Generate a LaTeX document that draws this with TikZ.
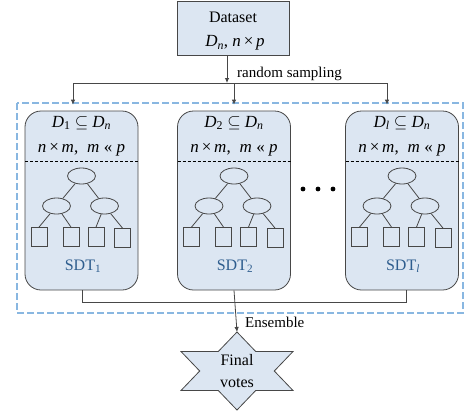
\documentclass[tikz,border=0pt]{standalone}
\usepackage{fontspec}
\setmainfont{Liberation Serif}
\usetikzlibrary{arrows.meta,shapes.geometric}
\definecolor{boxblue}{HTML}{DCE6F2}
\definecolor{linegray}{HTML}{474747}
\definecolor{dashblue}{HTML}{5B9BD5}
\definecolor{sdtblue}{HTML}{2E5D8E}
\newcommand\sbs[1]{\textsubscript{#1}}
\newcommand\Dn{\textit{D}\sbs{\textit{n}}}
\tikzset{
  conn/.style={draw=linegray, line width=0.8pt},
  arr/.style={conn, -{Latex[length=5pt,width=4.5pt]}},
  dsbox/.style={draw=linegray, fill=boxblue, line width=0.8pt, minimum width=112pt, minimum height=54pt, inner sep=0pt},
  sdtbox/.style={draw=linegray, fill=boxblue, line width=0.8pt, rounded corners=16pt, minimum width=113pt, minimum height=179pt, inner sep=0pt},
  treenode/.style={ellipse, draw=linegray, fill=boxblue, line width=0.8pt, minimum width=28pt, minimum height=16pt, inner sep=0pt},
  leaf/.style={rectangle, draw=linegray, fill=boxblue, line width=0.8pt, minimum width=16pt, minimum height=19pt, inner sep=0pt},
  txt/.style={inner sep=0pt, font=\fontsize{16}{19}\selectfont},
  mtxt/.style={inner sep=0pt, font=\fontsize{17}{20}\selectfont},
  lbl/.style={inner sep=0pt, font=\fontsize{15}{18}\selectfont},
  pics/sdtree/.style={code={
    \node[treenode] (-r) at (0,-24.5) {};
    \node[treenode] (-a) at (-25,5.5) {};
    \node[treenode] (-b) at (23,5.5) {};
    \node[leaf] (-l1) at (-42.5,36.5) {};
    \node[leaf] (-l2) at (-10.5,36.5) {};
    \node[leaf] (-l3) at (14.5,36.5) {};
    \node[leaf] (-l4) at (41,37.5) {};
    \draw[conn] (-r) -- (-a);
    \draw[conn] (-r) -- (-b);
    \draw[conn] (-a) -- (-l1.north);
    \draw[conn] (-a) -- (-l2.north);
    \draw[conn] (-b) -- (-l3.north);
    \draw[conn] (-b) -- (-l4.north);
    \draw[dashed, line width=0.7pt, dash pattern=on 3pt off 2pt] (-56.5,-39.5) -- (56.5,-39.5);
  }}
}
\begin{document}
\begin{tikzpicture}[x=1pt,y=-1pt]
\useasboundingbox (0,0) rectangle (466,418);
% outer dashed frame
\draw[draw=dashblue!72, line width=1.05pt, dash pattern=on 7pt off 3pt] (17,103) rectangle (463,313);
% dataset
\node[dsbox] (ds) at (233,28) {};
\node[txt] (dst) at (233,17) {Dataset};
\node[mtxt] (dsm) at (235,43) {\Dn, \textit{n}\,×\,\textit{p}};
% sdt boxes
\node[sdtbox] (b1) at (81.5,200.5) {};
\node[sdtbox] (b2) at (234,200.5) {};
\node[sdtbox] (b3) at (402,200.5) {};
\pic (t1) at (81.5,200.5) {sdtree};
\pic (t2) at (234,200.5) {sdtree};
\pic (t3) at (402,200.5) {sdtree};
\node[mtxt] (h1) at (81.5,123) {\textit{D}\sbs{1} $\subseteq$ \Dn};
\node[mtxt] (h2) at (234,123) {\textit{D}\sbs{2} $\subseteq$ \Dn};
\node[mtxt] (h3) at (402,123) {\textit{D}\sbs{\textit{l}} $\subseteq$ \Dn};
\foreach \i/\x in {1/81.5,2/234,3/402}{
  \node[mtxt] (m\i) at (\x,150) {\textit{n}\,×\,\textit{m},\; \textit{m} « \textit{p}};
}
\node[txt, text=sdtblue] (s1) at (83,266) {SDT\sbs{1}};
\node[txt, text=sdtblue] (s2) at (235,266) {SDT\sbs{2}};
\node[txt, text=sdtblue] (s3) at (403,266) {SDT\sbs{\textit{l}}};
% dots
\foreach \x in {303,318,333}{ \fill[black] (\x,189) circle (2.4pt); }
% random sampling
\coordinate (sp) at (227,83);
\coordinate (c1) at (73,83);
\coordinate (c2) at (234,83);
\coordinate (c3) at (387,83);
\draw[arr] (ds.south -| sp) -- (sp);
\draw[conn] (c1) -- (c3);
\node[lbl, anchor=base west] (rs) at (237,77) {random sampling};
\draw[arr, shorten >=6pt] (c1) -- (c1 |- b1.north);
\draw[arr, shorten >=6pt] (c2) -- (c2 |- b2.north);
\draw[arr, shorten >=6pt] (c3) -- (c3 |- b3.north);
% ensemble
\coordinate (e1) at (82,302);
\coordinate (e3) at (406,302);
\draw[conn] (b1.south -| e1) -- (e1) -- (e3) -- (b3.south -| e3);
% star
\coordinate (sc) at (237,371);
\coordinate (startop) at (237,332);
\draw[draw=linegray, fill=boxblue, line width=0.8pt]
  (237,332) -- (255.7,351.5) -- (293,351.5) -- (274.3,371) -- (293,390.5) -- (255.7,390.5)
  -- (237,410) -- (218.3,390.5) -- (181,390.5) -- (199.7,371) -- (181,351.5) -- (218.3,351.5) -- cycle;
\node[txt, align=center, font=\fontsize{16}{22}\selectfont] (fv) at (sc) {Final\\votes};
\draw[arr] (b2.south) -- (startop);
\node[lbl, anchor=base west] (ens) at (245,327) {Ensemble};
\end{tikzpicture}
\end{document}
